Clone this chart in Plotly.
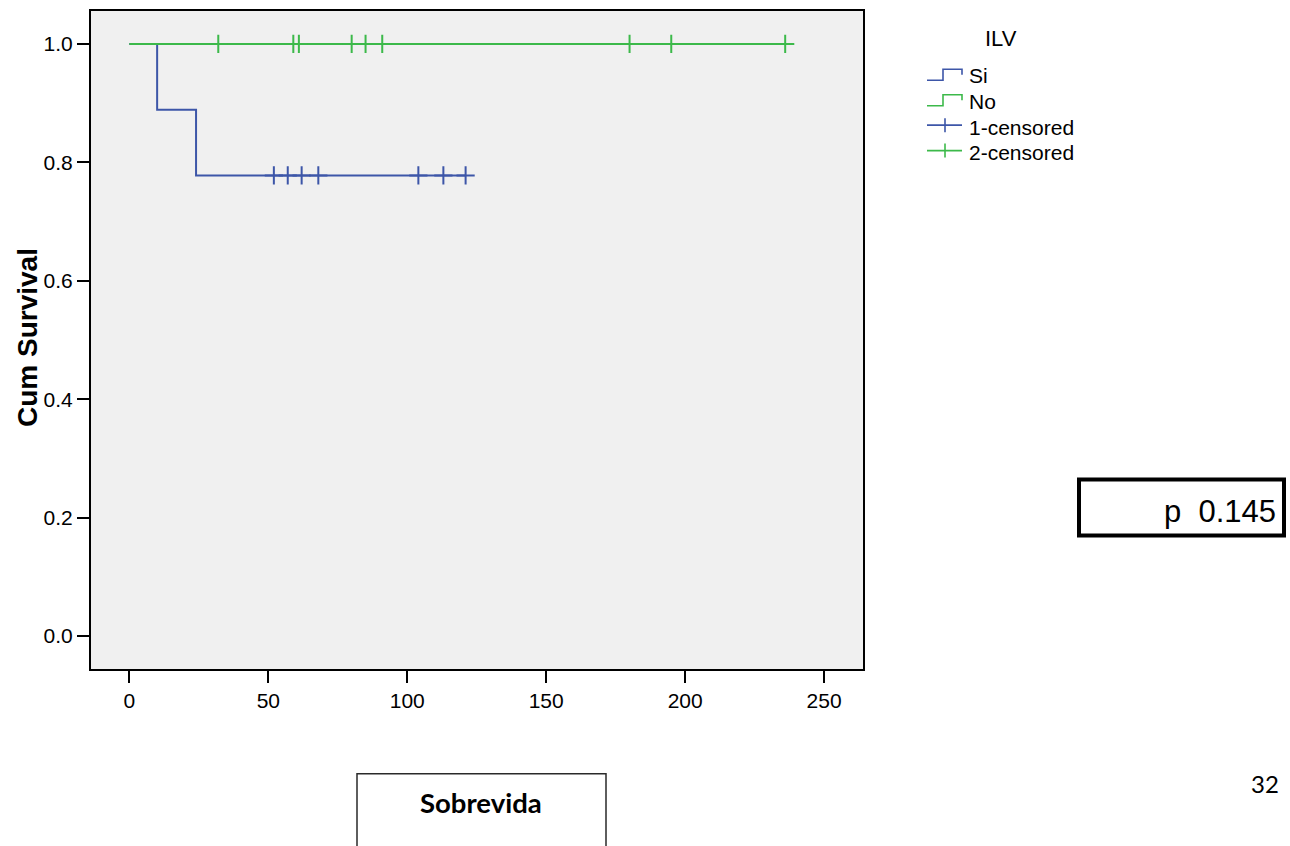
import plotly.graph_objects as go

# ---- data ----
si_step_time = [0, 10, 24, 121]
si_step_surv = [1.0, 0.889, 0.778, 0.778]
si_censor_time = [52, 57, 62, 68, 104, 113, 121]
si_censor_surv = [0.778, 0.778, 0.778, 0.778, 0.778, 0.778, 0.778]

no_step_time = [0, 236]
no_step_surv = [1.0, 1.0]
no_censor_time = [32, 59, 61, 80, 85, 91, 180, 195, 236]
no_censor_surv = [1.0, 1.0, 1.0, 1.0, 1.0, 1.0, 1.0, 1.0, 1.0]

x_ticks = [0, 50, 100, 150, 200, 250]
y_ticks = [0.0, 0.2, 0.4, 0.6, 0.8, 1.0]
y_tick_labels = ["0.0", "0.2", "0.4", "0.6", "0.8", "1.0"]

legend_title = "ILV"
legend_labels = ["Si", "No", "1-censored", "2-censored"]
p_text = "p\u00a0\u00a00.145"
x_title = "Sobrevida"
y_title = "Cum Survival"
page_number = "32"

BLUE = "#3D56A8"
GREEN = "#3CB94A"

W, H = 1290, 846
L, R, T, B = 91, 863, 9, 669


def px(x):
    return (x - L) / (R - L)


def py(y):
    return 1 - (y - T) / (B - T)


fig = go.Figure()

fig.add_trace(go.Scatter(x=si_step_time, y=si_step_surv, mode="lines",
                         line=dict(color=BLUE, width=2, shape="hv"),
                         hoverinfo="skip"))
fig.add_trace(go.Scatter(x=no_step_time, y=no_step_surv, mode="lines",
                         line=dict(color=GREEN, width=2, shape="hv"),
                         hoverinfo="skip"))
fig.add_trace(go.Scatter(x=si_censor_time, y=si_censor_surv, mode="markers",
                         marker=dict(symbol="cross-thin", size=13,
                                     line=dict(color=BLUE, width=2))))
fig.add_trace(go.Scatter(x=no_censor_time, y=no_censor_surv, mode="markers",
                         marker=dict(symbol="cross-thin", size=13,
                                     line=dict(color=GREEN, width=2))))

shapes = []
annotations = []

# custom legend
row_y = [74, 99.5, 125.5, 151]
for i, (lab, col) in enumerate(zip(legend_labels, [BLUE, GREEN, BLUE, GREEN])):
    cy = row_y[i]
    if i < 2:
        path = "M{},{} L{},{} L{},{} L{},{} L{},{}".format(
            px(927), py(cy + 4.5), px(943), py(cy + 4.5), px(943), py(cy - 6.5),
            px(962), py(cy - 6.5), px(962), py(cy - 1))
        shapes.append(dict(type="path", path=path, xref="paper", yref="paper",
                           line=dict(color=col, width=1.6)))
    else:
        ly = cy - 2
        shapes.append(dict(type="line", xref="paper", yref="paper",
                           x0=px(927), x1=px(962), y0=py(ly), y1=py(ly),
                           line=dict(color=col, width=1.6)))
        shapes.append(dict(type="line", xref="paper", yref="paper",
                           x0=px(945), x1=px(945), y0=py(ly - 7), y1=py(ly + 7),
                           line=dict(color=col, width=1.6)))
    annotations.append(dict(text=lab, xref="paper", yref="paper",
                            x=px(967), y=py(cy), xanchor="left", yanchor="middle",
                            showarrow=False,
                            font=dict(family="Liberation Sans", size=21, color="black")))

annotations.append(dict(text=legend_title, xref="paper", yref="paper",
                        x=px(1001), y=py(36.5), xanchor="center", yanchor="middle",
                        showarrow=False,
                        font=dict(family="Liberation Sans", size=22, color="black")))

# y axis title
annotations.append(dict(text="<b>" + y_title + "</b>", xref="paper", yref="paper",
                        x=px(27), y=py(337), xanchor="center", yanchor="middle",
                        textangle=-90, showarrow=False,
                        font=dict(family="Liberation Sans", size=28, color="black")))

# p-value box
shapes.append(dict(type="rect", xref="paper", yref="paper",
                   x0=px(1079), x1=px(1284), y0=py(479), y1=py(535),
                   line=dict(color="black", width=4), fillcolor="rgba(0,0,0,0)"))
annotations.append(dict(text=p_text, xref="paper", yref="paper",
                        x=px(1278), y=py(511), xanchor="right", yanchor="middle",
                        showarrow=False,
                        font=dict(family="Liberation Sans", size=31, color="black")))

# Sobrevida box
shapes.append(dict(type="rect", xref="paper", yref="paper",
                   x0=px(357), x1=px(606), y0=py(774), y1=py(870),
                   line=dict(color="#2a2a2a", width=1.5), fillcolor="rgba(0,0,0,0)"))
annotations.append(dict(text="<b>" + x_title + "</b>", xref="paper", yref="paper",
                        x=px(481), y=py(803), xanchor="center", yanchor="middle",
                        showarrow=False,
                        font=dict(family="Lato", size=27.5, color="black")))

# page number
annotations.append(dict(text=page_number, xref="paper", yref="paper",
                        x=px(1265), y=py(784), xanchor="center", yanchor="middle",
                        showarrow=False,
                        font=dict(family="Lato", size=24, color="black")))

fig.update_layout(
    width=W, height=H,
    margin=dict(l=L, r=W - R, t=T, b=H - B, pad=0),
    paper_bgcolor="white",
    plot_bgcolor="#F0F0F0",
    showlegend=False,
    hovermode=False,
    shapes=shapes,
    annotations=annotations,
    xaxis=dict(range=[-13.8, 264.0], tickvals=x_ticks, ticks="outside", ticklen=12,
               tickwidth=2, tickcolor="black", showline=True, linecolor="black",
               linewidth=2, mirror=True, showgrid=False, zeroline=False,
               tickfont=dict(family="Liberation Sans", size=21, color="black")),
    yaxis=dict(range=[-0.0556, 1.0556], tickvals=y_ticks, ticktext=y_tick_labels,
               ticks="outside", ticklen=12, tickwidth=2, tickcolor="black",
               showline=True, linecolor="black", linewidth=2, mirror=True,
               showgrid=False, zeroline=False,
               tickfont=dict(family="Liberation Sans", size=21, color="black")),
)

fig.write_html(
    "out.html",
    config={"displayModeBar": False},
    post_script="document.body.style.margin='0';document.body.style.overflow='hidden';",
)
